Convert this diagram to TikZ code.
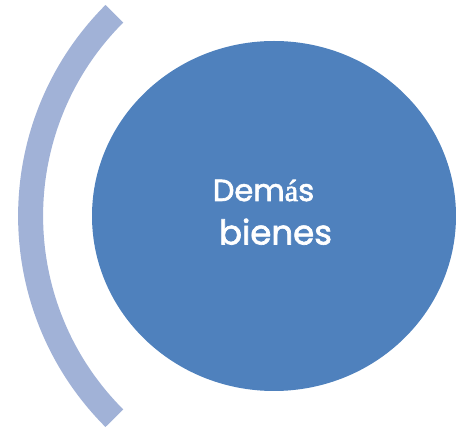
\documentclass[tikz,border=0pt]{standalone}
\usepackage{fontspec}
\usetikzlibrary{shapes.geometric}
\newfontfamily\popfont{Poppins}[FakeBold=2]
\newfontfamily\accfont{Liberation Serif}[FakeBold=2]
\definecolor{mainblue}{HTML}{4F81BD}
\definecolor{arcblue}{HTML}{A1B2D7}
\tikzset{
  bigcircle/.style={ellipse, fill=mainblue, draw=none, inner sep=0pt, minimum width=364pt, minimum height=350pt},
  labeltext/.style={text=white, inner sep=0pt, anchor=base},
  bracearc/.style={draw=arcblue, line width=25pt, line cap=butt}
}
\begin{document}
\begin{tikzpicture}[x=1pt,y=1pt]
\useasboundingbox (0,0) rectangle (456,431);
\node[bigcircle] (circ) at (274,215) {};
\coordinate (arccenter) at (316.6,215);
\draw[bracearc] (arccenter) ++(135:286) arc (135:225:286pt);
\node[labeltext, font=\popfont\fontsize{30.5}{36}\selectfont] (line1) at (263.5,230) {Dem{\accfont á}s};
\node[labeltext, font=\popfont\fontsize{34}{40}\selectfont] (line2) at (275.5,186.5) {bienes};
\end{tikzpicture}
\end{document}
